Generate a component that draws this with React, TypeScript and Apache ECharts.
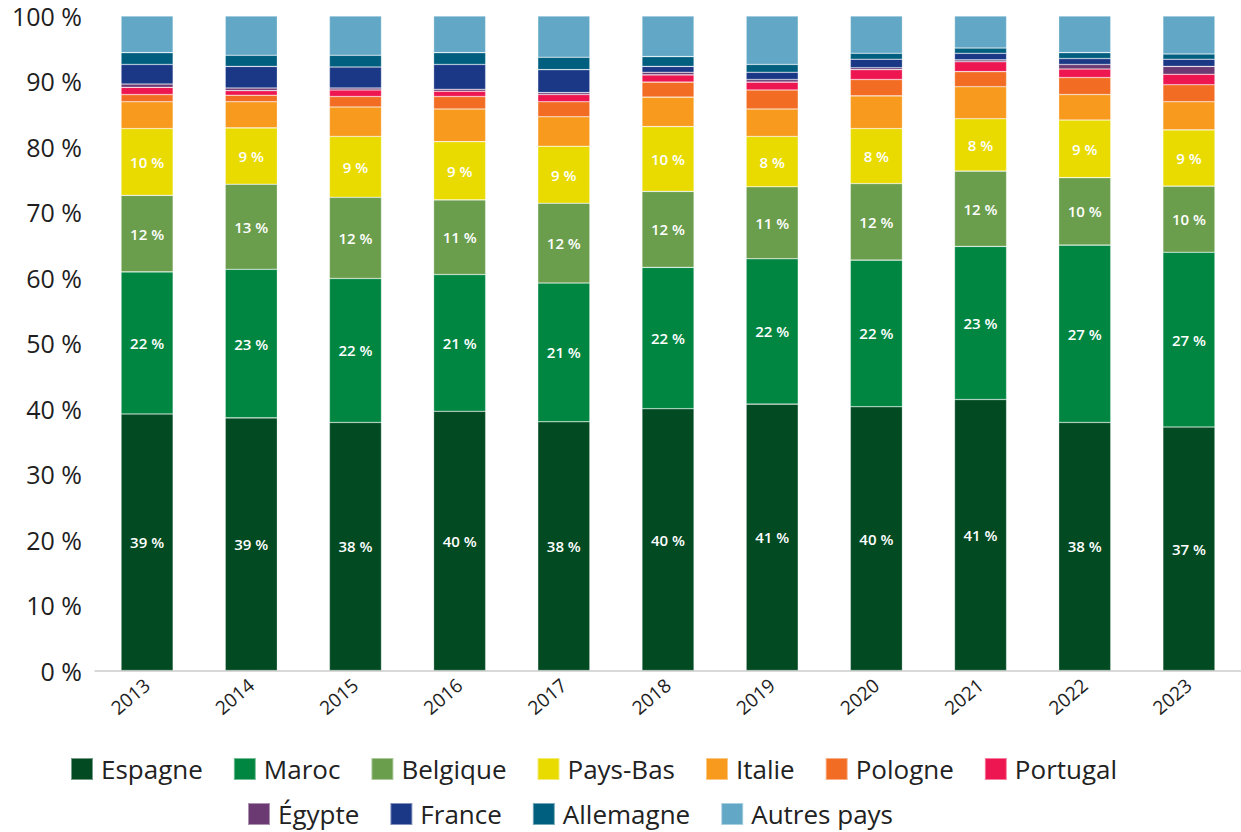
import React, { useEffect, useRef } from "react";
import * as echarts from "echarts";

const years = ["2013", "2014", "2015", "2016", "2017", "2018", "2019", "2020", "2021", "2022", "2023"];
const espagne = [39.2, 38.6, 37.9, 39.6, 38.0, 40.0, 40.7, 40.3, 41.4, 37.9, 37.2];
const maroc = [21.7, 22.7, 22.0, 20.9, 21.2, 21.6, 22.2, 22.4, 23.4, 27.1, 26.7];
const belgique = [11.7, 13.0, 12.4, 11.4, 12.2, 11.6, 11.0, 11.7, 11.5, 10.3, 10.1];
const paysBas = [10.2, 8.6, 9.3, 8.9, 8.7, 9.9, 7.7, 8.4, 8.0, 8.8, 8.6];
const italie = [4.1, 4.0, 4.5, 5.0, 4.5, 4.5, 4.2, 5.0, 4.9, 3.9, 4.3];
const pologne = [1.1, 1.0, 1.6, 1.9, 2.3, 2.3, 2.9, 2.5, 2.3, 2.6, 2.6];
const portugal = [1.1, 0.7, 1.0, 0.8, 1.1, 1.1, 1.2, 1.5, 1.5, 1.3, 1.6];
const egypte = [0.5, 0.4, 0.3, 0.3, 0.3, 0.4, 0.4, 0.3, 0.3, 0.7, 1.2];
const france = [3.0, 3.3, 3.2, 3.8, 3.5, 0.9, 1.1, 1.3, 1.0, 0.9, 1.1];
const allemagne = [1.8, 1.7, 1.8, 1.8, 1.9, 1.5, 1.2, 0.9, 0.8, 0.9, 0.8];
const autres = [5.6, 6.0, 6.0, 5.6, 6.3, 6.2, 7.4, 5.7, 4.9, 5.6, 5.8];
const yTicks = [0, 10, 20, 30, 40, 50, 60, 70, 80, 90, 100];

const seriesDefs = [
  { name: "Espagne", data: espagne, color: "#014A22", label: true },
  { name: "Maroc", data: maroc, color: "#008641", label: true },
  { name: "Belgique", data: belgique, color: "#6A9E4C", label: true },
  { name: "Pays-Bas", data: paysBas, color: "#E9DB00", label: true },
  { name: "Italie", data: italie, color: "#F79A1E", label: false },
  { name: "Pologne", data: pologne, color: "#F26D23", label: false },
  { name: "Portugal", data: portugal, color: "#EE1651", label: false },
  { name: "Égypte", data: egypte, color: "#6B3A73", label: false },
  { name: "France", data: france, color: "#1B3886", label: false },
  { name: "Allemagne", data: allemagne, color: "#005F7F", label: false },
  { name: "Autres pays", data: autres, color: "#62A8C6", label: false },
];

const FONT = "Open Sans";

export default function App() {
  const ref = useRef<HTMLDivElement>(null);
  useEffect(() => {
    if (!ref.current) return;
    const chart = echarts.init(ref.current, null, { renderer: "svg" });
    const legendCommon = {
      itemWidth: 22,
      itemHeight: 22,
      itemGap: 30,
      icon: "rect",
      padding: 0,
      textStyle: { fontFamily: FONT, fontSize: 26, color: "#222222", padding: [0, 0, 0, 3] },
    };
    chart.setOption({
      animation: false,
      textStyle: { fontFamily: FONT },
      grid: { left: 95, right: 0, top: 16, bottom: 161.5, containLabel: false },
      legend: [
        { ...legendCommon, left: 70, top: 756, data: seriesDefs.slice(0, 7).map((s) => s.name) },
        { ...legendCommon, left: 247, top: 801, data: seriesDefs.slice(7).map((s) => s.name) },
      ],
      xAxis: {
        type: "category",
        data: years,
        axisLine: { lineStyle: { color: "#cccccc", width: 1.5 } },
        axisTick: { show: false },
        axisLabel: { rotate: 40, fontSize: 19, color: "#1e1e1e", fontFamily: FONT, margin: 12 },
      },
      yAxis: {
        type: "value",
        min: yTicks[0],
        max: yTicks[yTicks.length - 1],
        interval: 10,
        splitLine: { show: false },
        axisLine: { show: false },
        axisTick: { show: false },
        axisLabel: {
          fontSize: 25,
          color: "#1e1e1e",
          fontFamily: FONT,
          margin: 13,
          padding: [6, 0, 0, 0],
          formatter: (v: number) => `${v} %`,
        },
      },
      series: seriesDefs.map((s) => ({
        name: s.name,
        type: "bar",
        stack: "total",
        barWidth: "50%",
        data: s.data,
        itemStyle: { color: s.color, borderColor: "rgba(255,255,255,0.45)", borderWidth: 0.6 },
        label: s.label
          ? {
              show: true,
              position: "inside",
              color: "#ffffff",
              fontFamily: FONT,
              fontWeight: 600,
              fontSize: 15,
              formatter: (p: any) => `${Math.round(p.value)} %`,
            }
          : { show: false },
      })),
    });
    return () => chart.dispose();
  }, []);
  return <div ref={ref} style={{ width: 1241, height: 832, position: "absolute", left: 0, top: 0 }} />;
}
